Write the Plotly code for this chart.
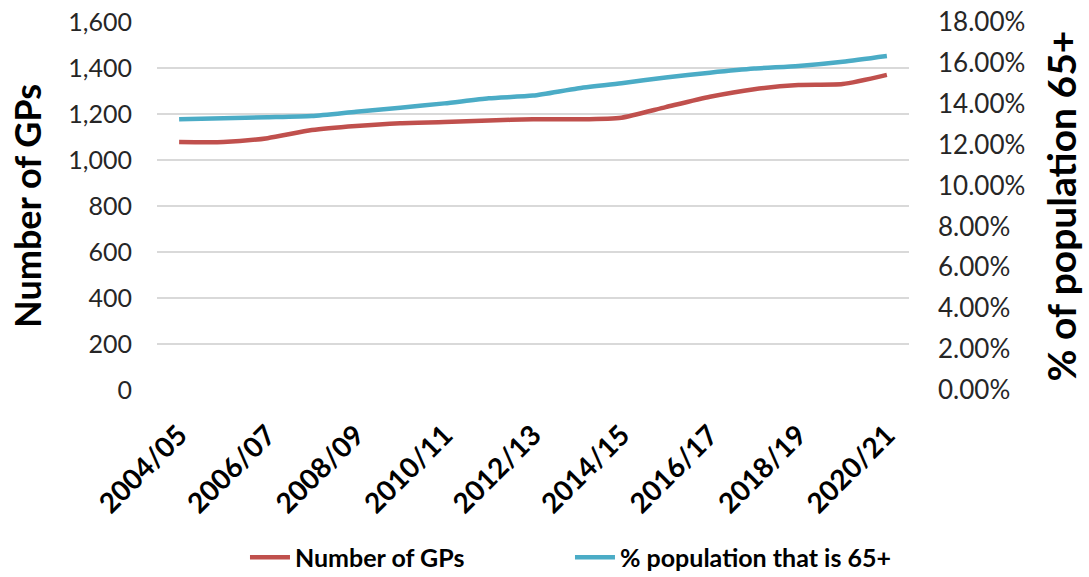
import plotly.graph_objects as go

years = ["2004/05", "2005/06", "2006/07", "2007/08", "2008/09", "2009/10", "2010/11",
         "2011/12", "2012/13", "2013/14", "2014/15", "2015/16", "2016/17", "2017/18",
         "2018/19", "2019/20", "2020/21"]
gps = [1078, 1078, 1095, 1130, 1148, 1160, 1165, 1172, 1177, 1177, 1184, 1230, 1275,
       1308, 1326, 1330, 1370]
pct65 = [0.1324, 0.1329, 0.1334, 0.1340, 0.1361, 0.1381, 0.1402, 0.1427, 0.1440,
         0.1475, 0.1500, 0.1529, 0.1552, 0.1572, 0.1585, 0.1606, 0.1634]
tick_labels = years[::2]

font_family = "Lato, 'Open Sans', sans-serif"

fig = go.Figure()
fig.add_trace(go.Scatter(x=years, y=gps, name="Number of GPs", mode="lines",
                         line=dict(color="#C0504D", width=4.5, shape="spline", smoothing=0.6)))
fig.add_trace(go.Scatter(x=years, y=pct65, name="% population that is 65+", mode="lines",
                         yaxis="y2",
                         line=dict(color="#4BACC6", width=4.5, shape="spline", smoothing=0.6)))

fig.update_layout(
    width=1089, height=577,
    margin=dict(l=157, r=180, t=22, b=187, autoexpand=False),
    paper_bgcolor="white", plot_bgcolor="white",
    font=dict(family=font_family, color="#262626", size=25),
    showlegend=True,
    legend=dict(orientation="h", x=0.117, xanchor="left", y=-0.455, yanchor="middle",
                font=dict(size=25, color="black", family=font_family, weight="bold"),
                itemwidth=40, entrywidth=270, traceorder="normal"),
    xaxis=dict(type="category", range=[-0.5, 16.5], tickmode="array",
               tickvals=tick_labels, ticktext=tick_labels, tickangle=-45,
               ticklabelstandoff=22, automargin=False,
               tickfont=dict(size=28, color="black", family=font_family, weight="bold"),
               showgrid=False, showline=False, ticks=""),
    yaxis=dict(range=[0, 1600], dtick=200, tickformat=",", showgrid=True,
               gridcolor="#D9D9D9", gridwidth=1.5, zeroline=False,
               ticklabelstandoff=24, automargin=False,
               tickfont=dict(size=25, color="#262626"),
               title=dict(text="Number of GPs", standoff=15,
                          font=dict(size=36, color="black", family=font_family, weight="bold"))),
    yaxis2=dict(range=[0, 0.18], dtick=0.02, tickformat=".2%", overlaying="y", side="right",
                showgrid=False, zeroline=False, ticklabelstandoff=28, automargin=False,
                tickfont=dict(size=26, color="#262626"),
                title=dict(text="% of population 65+", standoff=24,
                           font=dict(size=39, color="black", family=font_family, weight="bold"))),
)

fig.write_html("out.html")
